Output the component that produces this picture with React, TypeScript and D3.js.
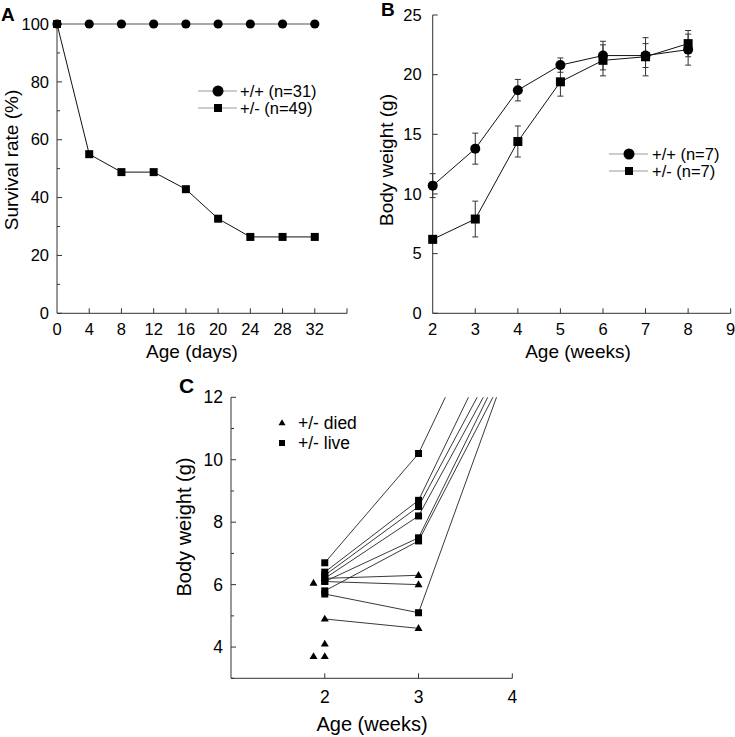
import React from "react";
import * as d3 from "d3";

// ---------- Panel A data ----------
const daysA = [0, 4, 8, 12, 16, 20, 24, 28, 32];
const survivalWT = [100, 100, 100, 100, 100, 100, 100, 100, 100];
const survivalHet = [100, 55, 48.8, 48.8, 42.9, 32.7, 26.4, 26.4, 26.4];
const ticksAX = [0, 4, 8, 12, 16, 20, 24, 28, 32];
const ticksAY = [0, 20, 40, 60, 80, 100];
const legendA = ["+/+ (n=31)", "+/- (n=49)"];

// ---------- Panel B data ----------
const weeksB = [2, 3, 4, 5, 6, 7, 8];
const weightWT = [10.7, 13.8, 18.7, 20.8, 21.6, 21.6, 22.1];
const errWT = [1.0, 1.3, 0.9, 0.6, 1.2, 1.0, 1.3];
const weightHet = [6.2, 7.9, 14.4, 19.4, 21.2, 21.5, 22.6];
const errHet = [0.3, 1.5, 1.3, 1.2, 1.3, 1.6, 1.1];
const ticksBX = [2, 3, 4, 5, 6, 7, 8, 9];
const ticksBY = [0, 5, 10, 15, 20, 25];
const legendB = ["+/+ (n=7)", "+/- (n=7)"];

// ---------- Panel C data ----------
const liveW2 = [6.7, 6.4, 6.3, 6.2, 6.1, 5.8, 5.7];
const liveW3 = [10.2, 8.7, 8.5, 8.2, 7.5, 7.4, 5.1];
const liveW4 = [16.5, 14.9, 14.1, 13.7, 13.6, 13.2, 13.4];
const diedW2 = [6.2, 6.1, 4.9];
const diedW3 = [6.3, 6.0, 4.6];
const diedOnlyX = [2, 2, 1.88, 1.88];
const diedOnlyY = [4.1, 3.7, 3.7, 6.05];
const ticksCX = [2, 3, 4];
const ticksCY = [4, 6, 8, 10, 12];
const legendC = ["+/- died", "+/- live"];

const FONT = "'Liberation Sans', Arial, Helvetica, sans-serif";
const AX = "#333";

function tri(cx: number, cy: number, s: number) {
  const h = s * 0.87;
  return `M${cx},${cy - h * 0.62} L${cx + s / 2},${cy + h * 0.38} L${cx - s / 2},${cy + h * 0.38} Z`;
}

export default function App() {
  // Panel A scales
  const xA = d3.scaleLinear().domain([0, 36]).range([57, 347]);
  const yA = d3.scaleLinear().domain([0, 100]).range([313.3, 24]);
  // Panel B scales
  const xB = d3.scaleLinear().domain([2, 9]).range([432.7, 730.7]);
  const yB = d3.scaleLinear().domain([0, 25]).range([313.3, 15]);
  // Panel C scales
  const xC = d3.scaleLinear().domain([1, 4]).range([231, 512.3]);
  const yC = d3.scaleLinear().domain([3, 12]).range([678.3, 397.3]);

  const pathA = (vals: number[]) =>
    d3.line<number>().x((_, i) => xA(daysA[i])).y((v) => yA(v))(vals) || "";
  const pathB = (vals: number[]) =>
    d3.line<number>().x((_, i) => xB(weeksB[i])).y((v) => yB(v))(vals) || "";
  const pathC = (vals: number[]) =>
    d3.line<number>().x((_, j) => xC(2 + j)).y((w) => yC(w))(vals) || "";

  const tickFont = 16.5;
  const titleFont = 19;
  const legFont = 16.5;

  return (
    <svg
      width={735}
      height={737}
      style={{ position: "absolute", left: 0, top: 0, background: "#fff" }}
      fontFamily={FONT}
    >
      <defs>
        <clipPath id="clipC">
          <rect x={231} y={397.3} width={300} height={290} />
        </clipPath>
      </defs>
      <rect width={735} height={737} fill="#fff" />

      {/* ================= Panel A ================= */}
      <text x={1} y={21} fontSize={19} fontWeight="bold">A</text>
      <line x1={xA(0)} x2={xA(0)} y1={yA(0)} y2={yA(100)} stroke={AX} />
      <line x1={xA(0)} x2={xA(36)} y1={yA(0)} y2={yA(0)} stroke={AX} />
      {d3.range(0, 101, 10).map((v) => (
        <line key={"aty" + v} x1={xA(0)} x2={xA(0) + (v % 20 === 0 ? 5 : 3)} y1={yA(v)} y2={yA(v)} stroke={AX} />
      ))}
      {ticksAY.map((v) => (
        <text key={"aly" + v} x={xA(0) - 8} y={yA(v)} dy="0.35em" textAnchor="end" fontSize={tickFont}>{v}</text>
      ))}
      {d3.range(4, 37, 4).map((v) => (
        <line key={"atx" + v} x1={xA(v)} x2={xA(v)} y1={yA(0)} y2={yA(0) - 5} stroke={AX} />
      ))}
      {ticksAX.map((v) => (
        <text key={"alx" + v} x={xA(v)} y={yA(0) + 22} textAnchor="middle" fontSize={tickFont}>{v}</text>
      ))}
      <text x={192} y={358} textAnchor="middle" fontSize={titleFont}>Age (days)</text>
      <text transform={`translate(18,160) rotate(-90)`} textAnchor="middle" fontSize={titleFont}>Survival rate (%)</text>
      <path d={pathA(survivalWT)} fill="none" stroke="#555" strokeWidth={1} />
      <path d={pathA(survivalHet)} fill="none" stroke="#111" strokeWidth={1} />
      {survivalWT.map((v, i) => (
        <circle key={"awc" + i} cx={xA(daysA[i])} cy={yA(v)} r={4.6} fill="#000" />
      ))}
      {survivalHet.map((v, i) => (
        <rect key={"ahs" + i} x={xA(daysA[i]) - 4} y={yA(v) - 4} width={8} height={8} fill="#000" />
      ))}
      {/* legend A */}
      <line x1={198} x2={237} y1={91} y2={91} stroke="#999" />
      <circle cx={218} cy={91} r={5.5} fill="#000" />
      <text x={240} y={91} dy="0.35em" fontSize={legFont}>{legendA[0]}</text>
      <line x1={198} x2={237} y1={108} y2={108} stroke="#999" />
      <rect x={214} y={104} width={8} height={8} fill="#000" />
      <text x={240} y={108} dy="0.35em" fontSize={legFont}>{legendA[1]}</text>

      {/* ================= Panel B ================= */}
      <text x={381} y={16} fontSize={19} fontWeight="bold">B</text>
      <line x1={xB(2)} x2={xB(2)} y1={yB(0)} y2={yB(25)} stroke={AX} />
      <line x1={xB(2)} x2={xB(9)} y1={yB(0)} y2={yB(0)} stroke={AX} />
      {ticksBY.map((v) => (
        <g key={"bty" + v}>
          <line x1={xB(2)} x2={xB(2) + 5} y1={yB(v)} y2={yB(v)} stroke={AX} />
          <text x={xB(2) - 11} y={yB(v)} dy="0.35em" textAnchor="end" fontSize={tickFont}>{v}</text>
        </g>
      ))}
      {ticksBX.map((v) => (
        <g key={"btx" + v}>
          {v > 2 && <line x1={xB(v)} x2={xB(v)} y1={yB(0)} y2={yB(0) - 5} stroke={AX} />}
          <text x={xB(v)} y={yB(0) + 22} textAnchor="middle" fontSize={tickFont}>{v}</text>
        </g>
      ))}
      <text x={578} y={358} textAnchor="middle" fontSize={titleFont}>Age (weeks)</text>
      <text transform={`translate(393,160) rotate(-90)`} textAnchor="middle" fontSize={titleFont}>Body weight (g)</text>
      {/* error bars */}
      {weightWT.map((v, i) => (
        <g key={"bew" + i} stroke="#333" strokeWidth={1}>
          <line x1={xB(weeksB[i])} x2={xB(weeksB[i])} y1={yB(v - errWT[i])} y2={yB(v + errWT[i])} />
          <line x1={xB(weeksB[i]) - 3} x2={xB(weeksB[i]) + 3} y1={yB(v - errWT[i])} y2={yB(v - errWT[i])} />
          <line x1={xB(weeksB[i]) - 3} x2={xB(weeksB[i]) + 3} y1={yB(v + errWT[i])} y2={yB(v + errWT[i])} />
        </g>
      ))}
      {weightHet.map((v, i) => (
        <g key={"beh" + i} stroke="#333" strokeWidth={1}>
          <line x1={xB(weeksB[i])} x2={xB(weeksB[i])} y1={yB(v - errHet[i])} y2={yB(v + errHet[i])} />
          <line x1={xB(weeksB[i]) - 3} x2={xB(weeksB[i]) + 3} y1={yB(v - errHet[i])} y2={yB(v - errHet[i])} />
          <line x1={xB(weeksB[i]) - 3} x2={xB(weeksB[i]) + 3} y1={yB(v + errHet[i])} y2={yB(v + errHet[i])} />
        </g>
      ))}
      <path d={pathB(weightWT)} fill="none" stroke="#111" strokeWidth={1} />
      <path d={pathB(weightHet)} fill="none" stroke="#111" strokeWidth={1} />
      {weightWT.map((v, i) => (
        <circle key={"bwc" + i} cx={xB(weeksB[i])} cy={yB(v)} r={5} fill="#000" />
      ))}
      {weightHet.map((v, i) => (
        <rect key={"bhs" + i} x={xB(weeksB[i]) - 4.5} y={yB(v) - 4.5} width={9} height={9} fill="#000" />
      ))}
      {/* legend B */}
      <line x1={609} x2={648} y1={154} y2={154} stroke="#999" />
      <circle cx={629} cy={154} r={5.5} fill="#000" />
      <text x={652} y={154} dy="0.35em" fontSize={legFont}>{legendB[0]}</text>
      <line x1={609} x2={648} y1={171} y2={171} stroke="#999" />
      <rect x={625} y={167} width={8} height={8} fill="#000" />
      <text x={652} y={171} dy="0.35em" fontSize={legFont}>{legendB[1]}</text>

      {/* ================= Panel C ================= */}
      <text x={179} y={393} fontSize={21} fontWeight="bold">C</text>
      <line x1={xC(1)} x2={xC(1)} y1={yC(3)} y2={yC(12)} stroke={AX} />
      <line x1={xC(1)} x2={xC(4)} y1={yC(3)} y2={yC(3)} stroke={AX} />
      {d3.range(3, 12.5, 1).map((v) => (
        <line key={"cty" + v} x1={xC(1)} x2={xC(1) + (v % 2 === 0 ? 5 : 3)} y1={yC(v)} y2={yC(v)} stroke={AX} />
      ))}
      {ticksCY.map((v) => (
        <text key={"cly" + v} x={xC(1) - 8} y={yC(v)} dy="0.35em" textAnchor="end" fontSize={17.5}>{v}</text>
      ))}
      {ticksCX.map((v) => (
        <g key={"ctx" + v}>
          <line x1={xC(v)} x2={xC(v)} y1={yC(3)} y2={yC(3) - 5} stroke={AX} />
          <text x={xC(v)} y={yC(3) + 25} textAnchor="middle" fontSize={17.5}>{v}</text>
        </g>
      ))}
      <text x={372} y={731} textAnchor="middle" fontSize={20}>Age (weeks)</text>
      <text transform={`translate(191,527) rotate(-90)`} textAnchor="middle" fontSize={20}>Body weight (g)</text>
      <g clipPath="url(#clipC)" fill="none" stroke="#222" strokeWidth={0.9}>
        {liveW2.map((v, i) => (
          <path key={"cl" + i} d={pathC([v, liveW3[i], liveW4[i]])} />
        ))}
        {diedW2.map((v, i) => (
          <path key={"cd" + i} d={pathC([v, diedW3[i]])} />
        ))}
      </g>
      {liveW2.map((v, i) => (
        <rect key={"cs2" + i} x={xC(2) - 3.5} y={yC(v) - 3.5} width={7} height={7} fill="#000" />
      ))}
      {liveW3.map((v, i) => (
        <rect key={"cs3" + i} x={xC(3) - 3.5} y={yC(v) - 3.5} width={7} height={7} fill="#000" />
      ))}
      {diedW2.map((v, i) => (
        <path key={"ct2" + i} d={tri(xC(2), yC(v), 8)} fill="#000" />
      ))}
      {diedW3.map((v, i) => (
        <path key={"ct3" + i} d={tri(xC(3), yC(v), 8)} fill="#000" />
      ))}
      {diedOnlyY.map((v, i) => (
        <path key={"cto" + i} d={tri(xC(diedOnlyX[i]), yC(v), 8)} fill="#000" />
      ))}
      {/* legend C */}
      <path d={tri(282, 423, 7)} fill="#000" />
      <text x={298} y={423} dy="0.35em" fontSize={17.5}>{legendC[0]}</text>
      <rect x={279} y={440} width={6} height={6} fill="#000" />
      <text x={298} y={443} dy="0.35em" fontSize={17.5}>{legendC[1]}</text>
    </svg>
  );
}
